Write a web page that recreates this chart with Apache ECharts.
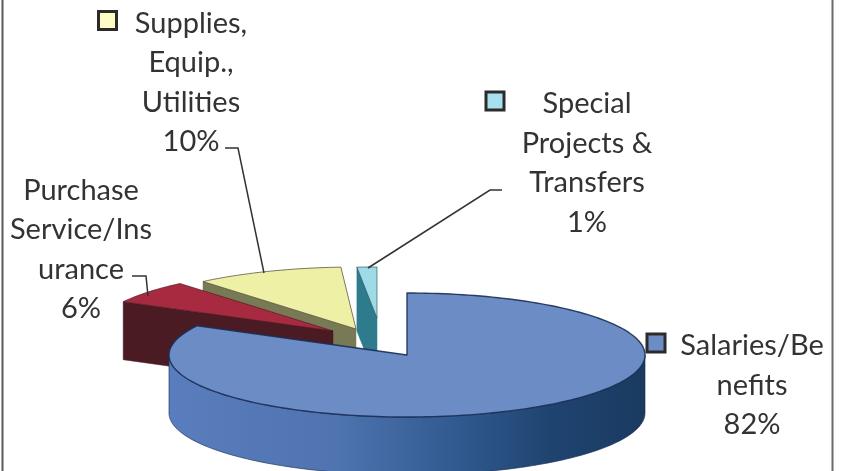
<!DOCTYPE html>
<html>
<head>
<meta charset="utf-8">
<style>html,body{margin:0;padding:0;background:#fff}#chart{width:841px;height:471px}</style>
<script src="https://cdn.jsdelivr.net/npm/echarts@6/dist/echarts.min.js"></script>
</head>
<body>
<div id="chart"></div>
<script>
// Budget shares, clockwise from twelve o'clock
const categories = ['Salaries/Benefits', 'Purchase Service/Insurance', 'Supplies, Equip., Utilities', 'Special Projects & Transfers'];
const shares = [82, 6, 10, 1];
// Wrapped label text for each slice (the share is appended as the last line)
const labelLines = [['Salaries/Be', 'nefits'], ['Purchase', 'Service/Ins', 'urance'], ['Supplies,', 'Equip.,', 'Utilities'], ['Special', 'Projects &', 'Transfers']];

const RX = 238, RY = 62, DEPTH = 58;
const CX = 407, CY = 355;
const TEXT = '#333333', FONT = 'Lato';

// Per-slice presentation: explosion offset from the pie centre, colours, label anchor, key, leader
const look = [
  { dx: 0, dy: 0, top: '#6c8cc6', wall: '#1a3a60', edge: 'rgba(25,45,85,0.9)', edgeW: 1.4, keyFill: '#6c8cc6', key: [656, 343], lx: 752, ly: 326, lead: null, draw: 3 },
  { dx: -74, dy: -24, top: '#a82a40', wall: '#4b1b24', edge: 'rgba(70,20,30,0.6)', edgeW: 1, key: null, lx: 81, ly: 170.5, lead: [[132, 276], [146, 276], [148, 296]], draw: 2 },
  { dx: -51, dy: -26, top: '#eef0a6', wall: '#787a55', edge: 'rgba(70,70,50,0.7)', edgeW: 1, keyFill: '#fcfcc4', key: [107.5, 20.5], lx: 191, ly: 3.5, lead: [[225, 148], [238, 148], [264, 273]], draw: 1 },
  { dx: -30, dy: -37, rx: 317, ry: 51, depth: 64, top: '#9fdbe6', wall: '#2d7b8c', edge: 'rgba(30,70,80,0.6)', edgeW: 1, keyFill: '#a8e0f0', key: [495, 101], lx: 587, ly: 84, lead: [[502, 190], [490, 190], [368, 268]], draw: 0 }
];

const total = shares.reduce((a, b) => a + b, 0);
let running = 0;
const spans = shares.map(v => {
  const from = running / total * 360;
  running += v;
  return [from, running / total * 360];
});

const rad = d => d * Math.PI / 180;

function renderSlice(params, api) {
  const i = params.dataIndex;
  const [a, b] = spans[api.value(0)];
  const s = look[i];
  const cx = CX + s.dx, cy = CY + s.dy;
  const rx = s.rx || RX, ry = s.ry || RY, depth = s.depth || DEPTH;
  const rim = deg => [cx + rx * Math.sin(rad(deg)), cy - ry * Math.cos(rad(deg))];
  const arc = (p, q) => {
    const pts = [];
    const n = Math.max(2, Math.ceil((q - p) / 1.5));
    for (let k = 0; k <= n; k++) pts.push(rim(p + (q - p) * k / n));
    return pts;
  };
  const base = s.draw * 10;
  const kids = [];

  // Cut face of an exploded wedge, extruded downward
  if (i > 0) {
    const p = rim(a);
    kids.push({
      type: 'polygon', z2: base,
      shape: { points: [[cx, cy], p, [p[0], p[1] + depth], [cx, cy + depth]] },
      style: { fill: s.wall, stroke: s.wall, lineWidth: 0.5 }
    });
  }

  // Outer wall: only the part of the rim on the near side of the ellipse shows
  const from = Math.max(a, 90), to = Math.min(b, 270);
  if (to > from) {
    const upper = arc(from, to);
    const lower = upper.slice().reverse().map(p => [p[0], p[1] + depth]);
    kids.push({
      type: 'polygon', z2: base + 1,
      shape: { points: upper.concat(lower) },
      style: {
        stroke: 'rgba(25,45,85,0.8)', lineWidth: 0.8,
        fill: new echarts.graphic.LinearGradient(0, 0, 1, 0, [
          { offset: 0, color: '#5a7dbd' },
          { offset: 0.35, color: '#4f74b0' },
          { offset: 0.6, color: '#315a90' },
          { offset: 0.8, color: '#1f4470' },
          { offset: 1, color: s.wall }
        ])
      }
    });
  }

  // Top surface
  kids.push({
    type: 'polygon', z2: base + 2,
    shape: { points: [[cx, cy]].concat(arc(a, b)) },
    style: { fill: s.top, stroke: s.edge, lineWidth: s.edgeW, lineJoin: 'round' }
  });
  return { type: 'group', children: kids };
}

function renderLabels() {
  const kids = [];
  look.forEach((s, i) => {
    const lines = labelLines[i].concat(shares[i] + '%');
    kids.push({
      type: 'text', z2: 100,
      style: {
        x: s.lx, y: s.ly,
        text: lines.join('\n'),
        align: 'center', verticalAlign: 'top',
        font: '29px ' + FONT, lineHeight: 39.6, fill: TEXT
      }
    });
    if (s.key) {
      kids.push({
        type: 'rect', z2: 100,
        shape: { x: s.key[0] - 9, y: s.key[1] - 9, width: 18, height: 18 },
        style: { fill: s.keyFill, stroke: '#2b2b2b', lineWidth: 3 }
      });
    }
    if (s.lead) {
      kids.push({
        type: 'polyline', z2: 100,
        shape: { points: s.lead },
        style: { fill: 'none', stroke: '#333333', lineWidth: 1.5 }
      });
    }
  });
  return { type: 'group', children: kids };
}

const chart = echarts.init(document.getElementById('chart'), null, { renderer: 'canvas' });
chart.setOption({
  animation: false,
  backgroundColor: '#ffffff',
  graphic: [
    { type: 'line', shape: { x1: 2.5, y1: 0, x2: 2.5, y2: 471 }, style: { stroke: '#5a5a5a', lineWidth: 2 } },
    { type: 'line', shape: { x1: 832.5, y1: 0, x2: 832.5, y2: 471 }, style: { stroke: '#6a6a6a', lineWidth: 2 } }
  ],
  series: [
    // Wedges overlap according to look[].draw, which sets each one's z2 range
    {
      type: 'custom', coordinateSystem: 'none', silent: true, z: 2,
      data: categories.map((name, i) => ({ name, value: [i, shares[i]] })),
      renderItem: renderSlice
    },
    {
      type: 'custom', coordinateSystem: 'none', silent: true, z: 3,
      data: [0],
      renderItem: renderLabels
    }
  ]
});
</script>
</body>
</html>
